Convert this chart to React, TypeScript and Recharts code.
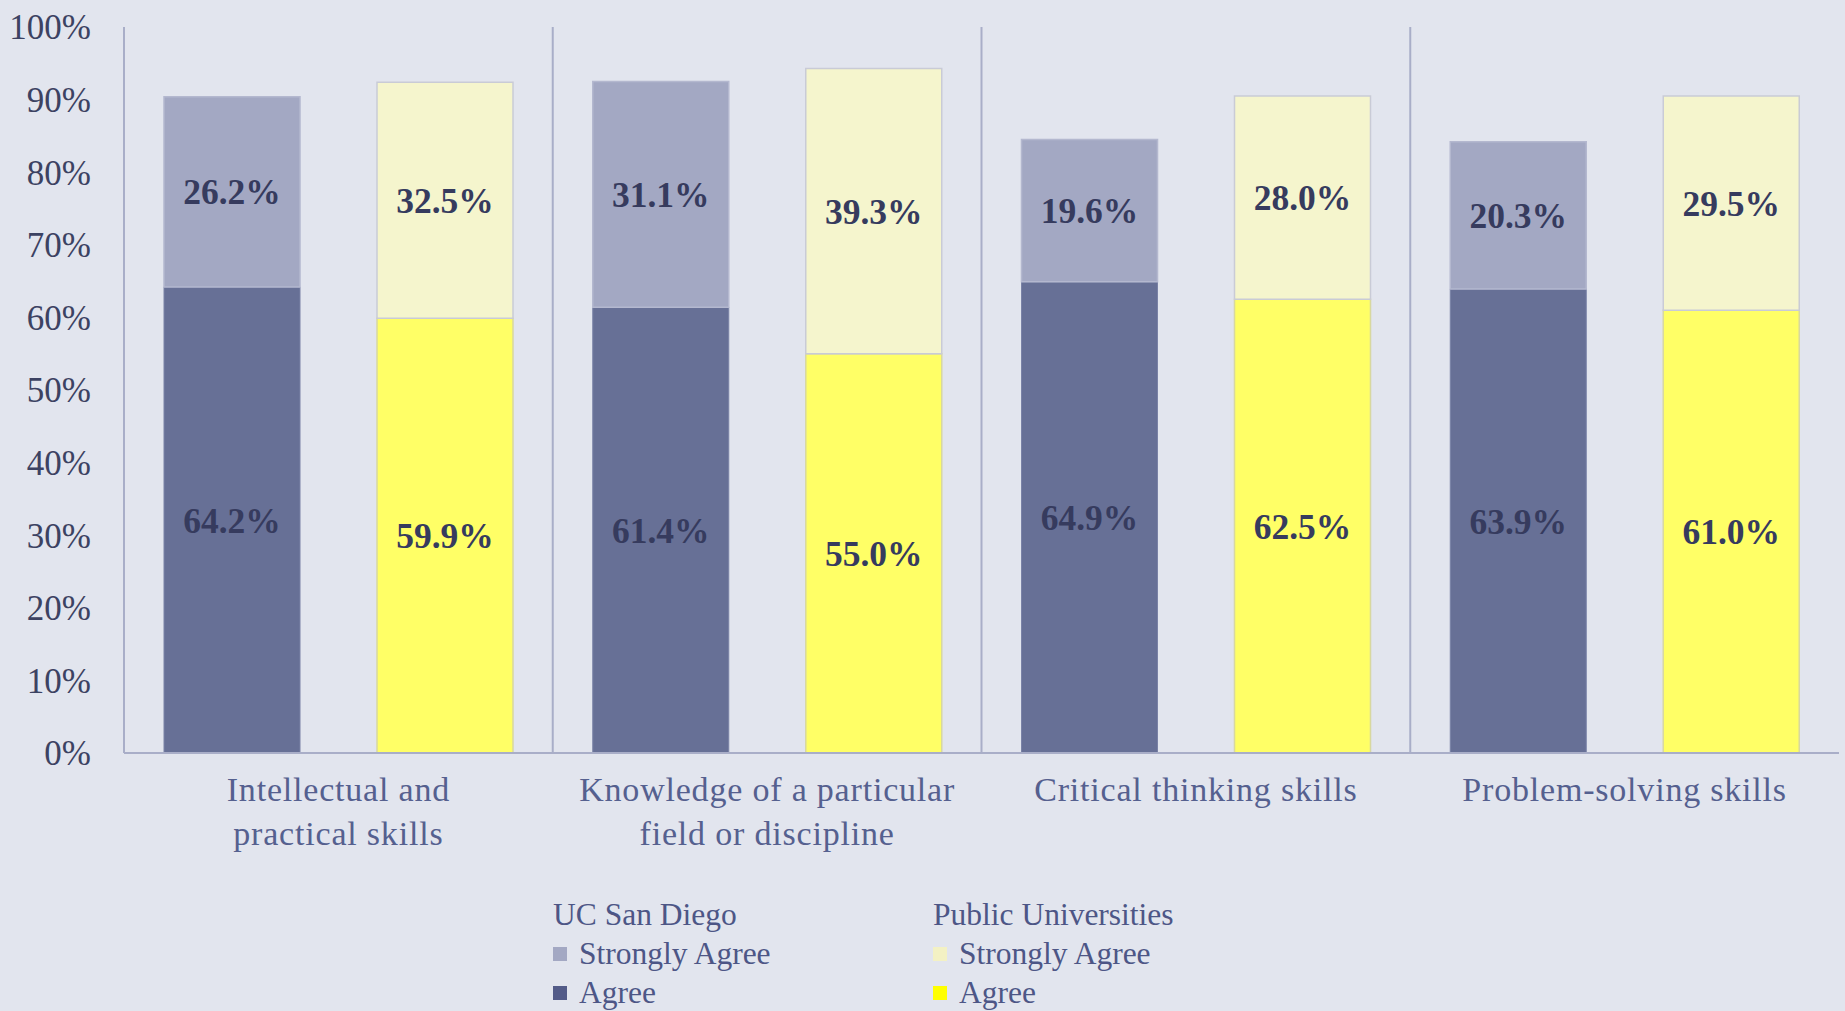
import React from "react";
import {
  BarChart,
  Bar,
  XAxis,
  YAxis,
  CartesianGrid,
  LabelList,
} from "recharts";

const categories = [
  "Intellectual and\npractical skills",
  "Knowledge of a particular\nfield or discipline",
  "Critical thinking skills",
  "Problem-solving skills",
];
const ucsdAgree = [64.2, 61.4, 64.9, 63.9];
const ucsdStrongly = [26.2, 31.1, 19.6, 20.3];
const publicAgree = [59.9, 55.0, 62.5, 61.0];
const publicStrongly = [32.5, 39.3, 28.0, 29.5];
const yTicks = [0, 10, 20, 30, 40, 50, 60, 70, 80, 90, 100];

const data = categories.map((name, i) => ({
  name,
  ucsdAgree: ucsdAgree[i],
  ucsdStrongly: ucsdStrongly[i],
  publicAgree: publicAgree[i],
  publicStrongly: publicStrongly[i],
}));

const FONT = "'Liberation Serif', 'Times New Roman', serif";
const AXIS = "#a9aec8";
const pct = (v: any) => `${Number(v).toFixed(1)}%`;

// two-line category labels under the axis
function CategoryTick({ x, y, payload }: any) {
  const lines = String(payload.value).split("\n");
  return (
    <text
      x={x}
      y={y}
      textAnchor="middle"
      fill="#55608f"
      fontSize={34}
      fontFamily={FONT}
      letterSpacing={0.8}
    >
      {lines.map((l, i) => (
        <tspan key={i} x={x} dy={i === 0 ? 48 : 44}>
          {l}
        </tspan>
      ))}
    </text>
  );
}

function LegendBlock({ title, items }: { title: string; items: { label: string; color: string }[] }) {
  return (
    <div style={{ fontFamily: FONT, fontSize: 31.5, color: "#4d5686", lineHeight: "39px" }}>
      <div>{title}</div>
      {items.map((it) => (
        <div key={it.label} style={{ display: "flex", alignItems: "center" }}>
          <span style={{ width: 14, height: 14, background: it.color, marginRight: 12, display: "inline-block" }} />
          {it.label}
        </div>
      ))}
    </div>
  );
}

export default function App() {
  const labelStyle = { fontFamily: FONT, fontSize: 35.5, fontWeight: 700, fill: "#363b5e" };
  return (
    <div style={{ position: "absolute", left: 0, top: 0, width: 1845, height: 1011, background: "#e2e5ee" }}>
      <BarChart
        width={1845}
        height={1011}
        data={data}
        margin={{ top: 27, right: 6, bottom: 158, left: 0 }}
        barSize={136}
        barGap={77}
      >
        <CartesianGrid
          horizontal={false}
          stroke={AXIS}
          strokeWidth={2}
          verticalCoordinatesGenerator={({ offset }: any) =>
            categories.slice(1).map((_, i) => offset.left + ((i + 1) * offset.width) / categories.length)
          }
        />
        <XAxis
          dataKey="name"
          height={100}
          tickLine={false}
          tickSize={0}
          tickMargin={0}
          axisLine={{ stroke: AXIS, strokeWidth: 2 }}
          tick={<CategoryTick />}
          interval={0}
        />
        <YAxis
          width={124}
          domain={[0, 100]}
          ticks={yTicks}
          tickFormatter={(v) => `${v}%`}
          tickLine={false}
          tickSize={0}
          tickMargin={33}
          axisLine={{ stroke: AXIS, strokeWidth: 2 }}
          tick={{ fill: "#3c4262", fontSize: 35, fontFamily: FONT }}
        />
        <Bar dataKey="ucsdAgree" stackId="ucsd" fill="#677096" stroke="#7a82a6" strokeWidth={1} isAnimationActive={false}>
          <LabelList dataKey="ucsdAgree" position="center" formatter={pct} style={labelStyle} />
        </Bar>
        <Bar dataKey="ucsdStrongly" stackId="ucsd" fill="#a3a8c3" stroke="#b4b8cf" strokeWidth={1.5} isAnimationActive={false}>
          <LabelList dataKey="ucsdStrongly" position="center" formatter={pct} style={labelStyle} />
        </Bar>
        <Bar dataKey="publicAgree" stackId="public" fill="#ffff66" stroke="#d8d8a0" strokeWidth={1.5} isAnimationActive={false}>
          <LabelList dataKey="publicAgree" position="center" formatter={pct} style={labelStyle} />
        </Bar>
        <Bar dataKey="publicStrongly" stackId="public" fill="#f5f5cd" stroke="#c9cbd6" strokeWidth={1.5} isAnimationActive={false}>
          <LabelList dataKey="publicStrongly" position="center" formatter={pct} style={labelStyle} />
        </Bar>
      </BarChart>
      <div style={{ position: "absolute", left: 553, top: 895, display: "flex" }}>
        <div style={{ width: 380 }}>
          <LegendBlock
            title="UC San Diego"
            items={[
              { label: "Strongly Agree", color: "#a3a8c3" },
              { label: "Agree", color: "#535b88" },
            ]}
          />
        </div>
        <LegendBlock
          title="Public Universities"
          items={[
            { label: "Strongly Agree", color: "#f3f1c4" },
            { label: "Agree", color: "#ffff00" },
          ]}
        />
      </div>
    </div>
  );
}
